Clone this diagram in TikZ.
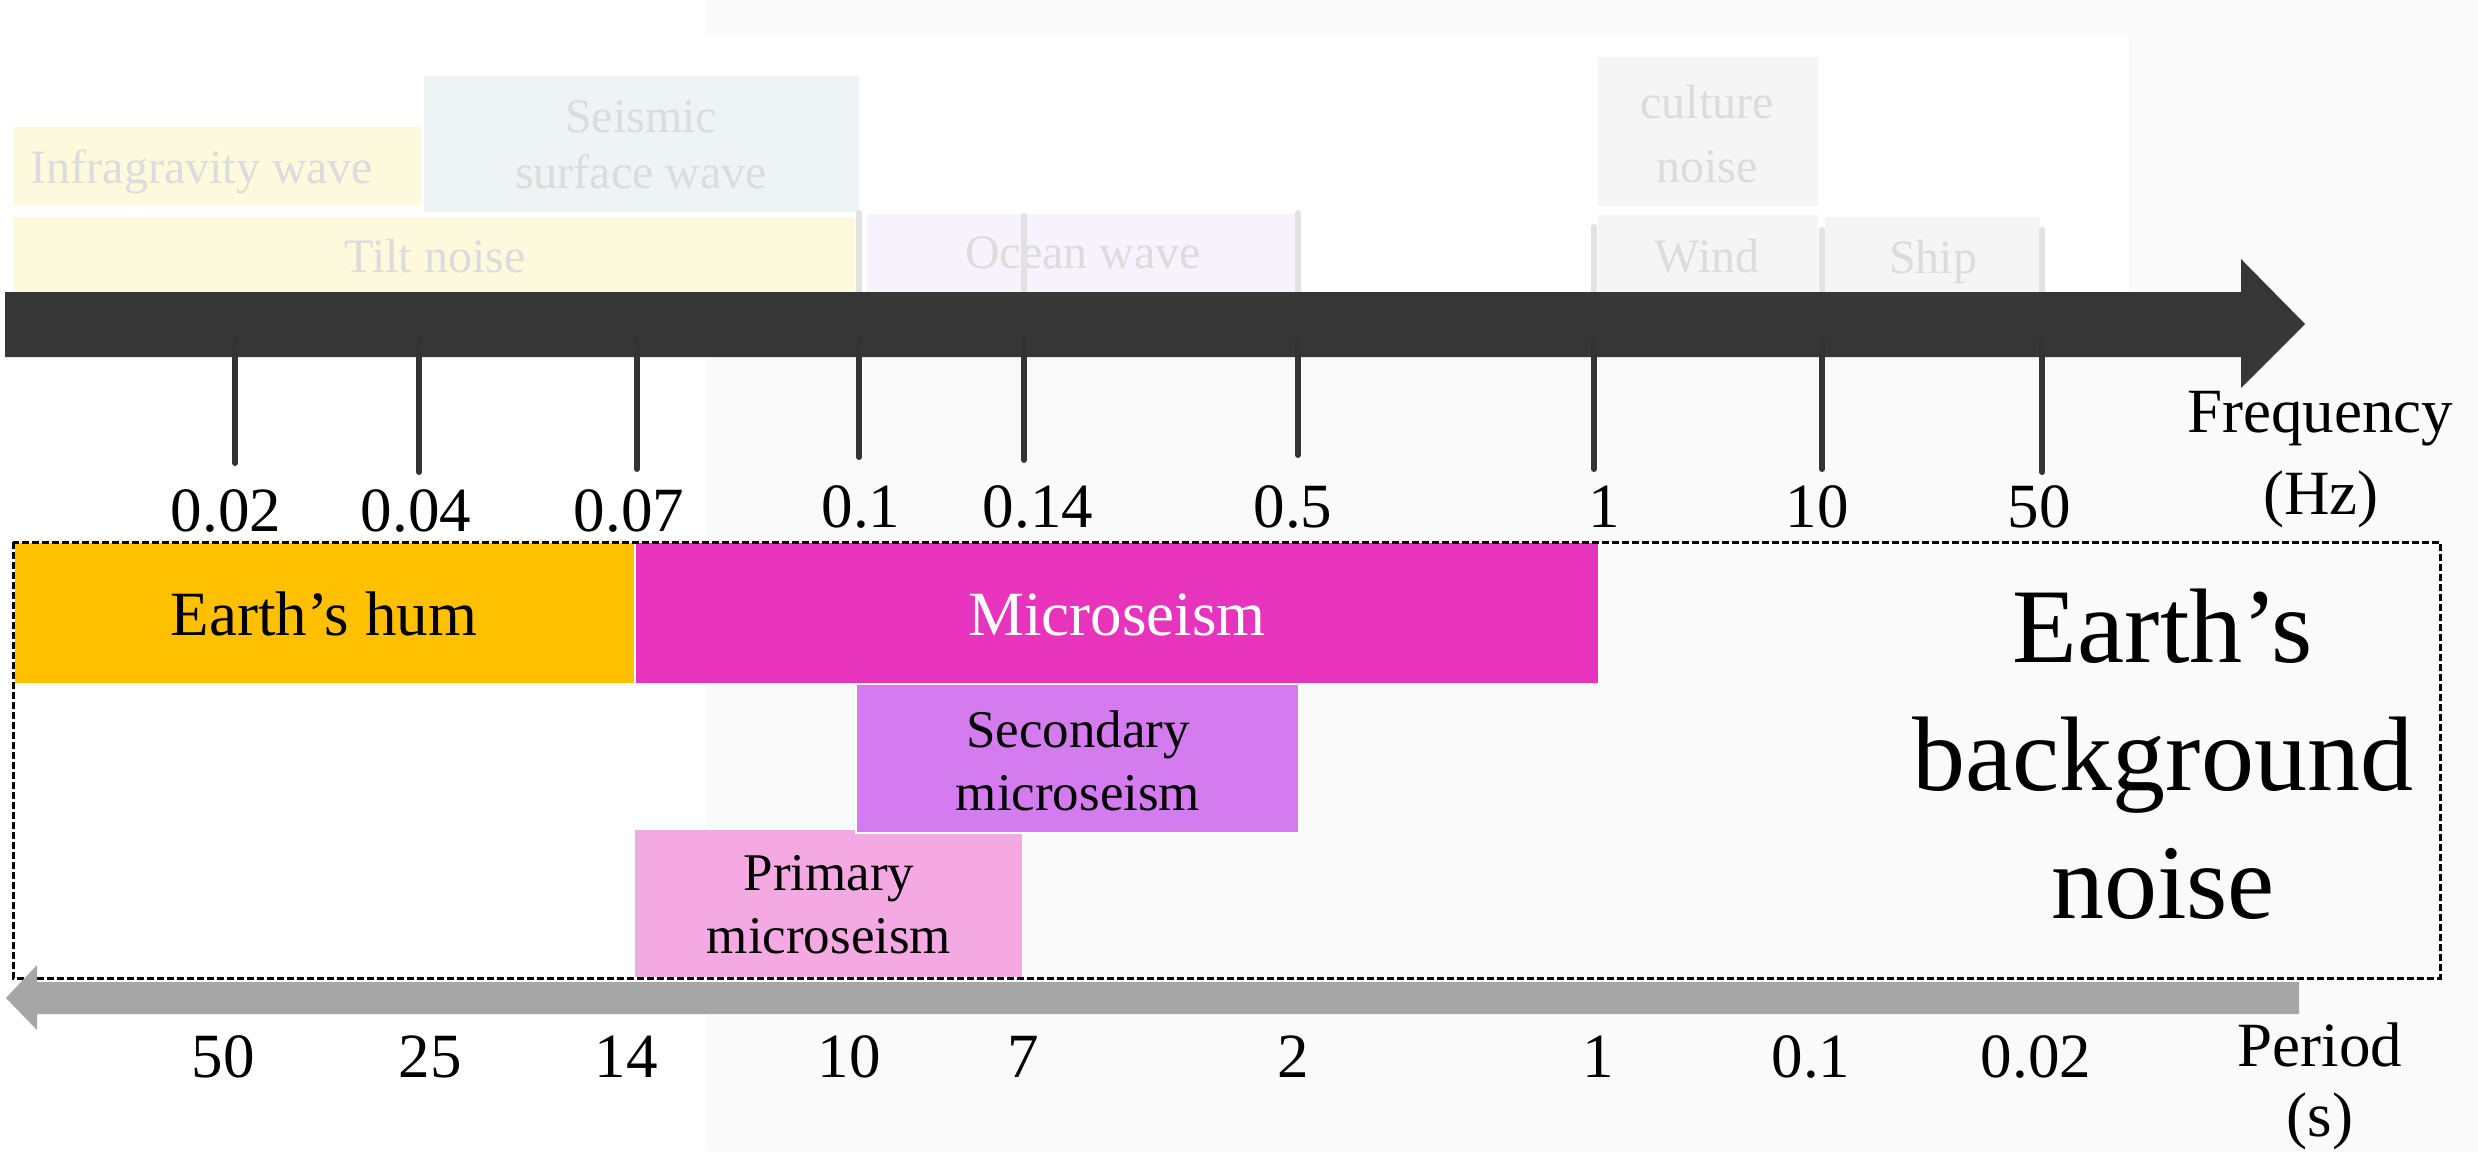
\documentclass[tikz,border=0pt]{standalone}
\usepackage{fontspec}
\setmainfont{Liberation Serif}
\definecolor{bggray}{HTML}{FAFAFA}
\definecolor{fadeyel}{HTML}{FDF9DC}
\definecolor{fadeblue}{HTML}{EEF3F5}
\definecolor{fadelav}{HTML}{F8F2FC}
\definecolor{fadegray}{HTML}{F5F5F5}
\definecolor{fadetxt}{HTML}{DCDCDC}
\definecolor{ghosttick}{HTML}{E2E2E2}
\definecolor{yelline}{HTML}{FFE100}
\definecolor{darkbar}{HTML}{363636}
\definecolor{tickdark}{HTML}{333333}
\definecolor{humcol}{HTML}{FFC000}
\definecolor{microcol}{HTML}{E833BD}
\definecolor{seccol}{HTML}{D57BF0}
\definecolor{primcol}{HTML}{F5A9E3}
\definecolor{perbar}{HTML}{A6A6A6}
\begin{document}
\begin{tikzpicture}[x=0.5pt,y=-0.5pt,
  lbl/.style={anchor=base, inner sep=0pt, font=\fontsize{31.5}{38}\selectfont},
  faded/.style={anchor=base, inner sep=0pt, text=fadetxt, font=\fontsize{24}{29}\selectfont},
  midtxt/.style={anchor=base, inner sep=0pt, font=\fontsize{26.5}{32}\selectfont},
  bigtxt/.style={anchor=base, inner sep=0pt, font=\fontsize{53}{64}\selectfont},
  ticklin/.style={line width=3pt, line cap=round, draw=tickdark},
  ghostlin/.style={line width=3pt, line cap=round, draw=ghosttick},
  cbox/.style={draw=white, line width=1pt},
  dashbox/.style={draw=black, line width=1.5pt, dash pattern=on 3.5pt off 1.5pt}]
\useasboundingbox (0,0) rectangle (2478,1151);
% background
\fill[white] (0,0) rectangle (2478,1151);
\fill[bggray] (707,0) rectangle (2478,1151);
\fill[white] (0,35) rectangle (2129,293);
% faded boxes
\fill[fadeyel] (13,127) rectangle (421,205);
\fill[fadeblue] (424,76) rectangle (859,212);
\fill[fadeyel] (13,217) rectangle (855,294);
\draw[yelline, line width=1.5pt] (13,293) -- (855,293);
\fill[fadelav] (867,214) rectangle (1298,292);
\fill[fadegray] (1598,57) rectangle (1818,206);
\fill[fadegray] (1598,215) rectangle (1818,292);
\fill[fadegray] (1825,217) rectangle (2040,296);
\draw[ghosttick, line width=1.5pt] (1825,295) -- (2040,295);
% ghost ticks above axis
\draw[ghostlin] (859,213) -- (859,292);
\draw[ghostlin] (1298,213) -- (1298,292);
\draw[ghostlin] (1594,227) -- (1594,292);
\draw[ghostlin] (1822,230) -- (1822,292);
\draw[ghostlin] (2042,230) -- (2042,292);
% faded texts
\node[faded] (infra) at (202,183) {Infragravity wave};
\node[faded] (seis1) at (641,132) {Seismic};
\node[faded] (seis2) at (641,188) {surface wave};
\node[faded] (tilt) at (435,272) {Tilt noise};
\node[faded] (ocean) at (1083,268) {Ocean wave};
\node[faded] (cult1) at (1707,118) {culture};
\node[faded] (cult2) at (1707,182) {noise};
\node[faded] (wind) at (1707,272) {Wind};
\node[faded] (ship) at (1933,273) {Ship};
\draw[ghostlin] (1024,216) -- (1024,292);
% frequency axis arrow
\fill[darkbar] (5,292) -- (2241,292) -- (2241,259) -- (2305,324) -- (2241,388) -- (2241,357) -- (5,357) -- cycle;
% ticks below axis
\draw[ticklin] (235,340) -- (235,463);
\draw[ticklin] (419,340) -- (419,472);
\draw[ticklin] (637,340) -- (637,469);
\draw[ticklin] (859,340) -- (859,457);
\draw[ticklin] (1024,340) -- (1024,460);
\draw[ticklin] (1298,340) -- (1298,455);
\draw[ticklin] (1594,340) -- (1594,469);
\draw[ticklin] (1822,340) -- (1822,469);
\draw[ticklin] (2042,340) -- (2042,472);
% frequency labels
\node[lbl] (f1) at (226,531) {0.02};
\node[lbl] (f2) at (416,531) {0.04};
\node[lbl] (f3) at (629,531) {0.07};
\node[lbl] (f4) at (861,527) {0.1};
\node[lbl] (f5) at (1038,527) {0.14};
\node[lbl] (f6) at (1293,527) {0.5};
\node[lbl] (f7) at (1604,527) {1};
\node[lbl] (f8) at (1817,527) {10};
\node[lbl] (f9) at (2039,527) {50};
\node[lbl] (freq1) at (2320,432) {Frequency};
\node[lbl] (freq2) at (2321,514) {(Hz)};
% coloured boxes
\fill[humcol, cbox] (14,542) rectangle (635,684);
\fill[microcol, cbox] (635,542) rectangle (1599,684);
\fill[primcol, cbox] (634,829) rectangle (1023,978);
\fill[seccol, cbox] (856,684) rectangle (1299,833);
\node[lbl] (hum) at (324,635) {Earth’s hum};
\node[lbl, text=white] (micro) at (1117,635) {Microseism};
\node[midtxt] (sec1) at (1078,747) {Secondary};
\node[midtxt] (sec2) at (1078,810) {microseism};
\node[midtxt] (prim1) at (829,890) {Primary};
\node[midtxt] (prim2) at (829,953) {microseism};
\node[bigtxt] (ebn1) at (2163,662) {Earth’s};
\node[bigtxt] (ebn2) at (2163,790) {background};
\node[bigtxt] (ebn3) at (2163,918) {noise};
% dashed frame
\draw[dashbox] (13,542) rectangle (2440,978);
% period axis arrow
\fill[perbar] (2299,982) -- (37,982) -- (37,965) -- (6,998) -- (37,1030) -- (37,1014) -- (2299,1014) -- cycle;
% period labels
\node[lbl] (p1) at (223,1077) {50};
\node[lbl] (p2) at (430,1077) {25};
\node[lbl] (p3) at (626,1077) {14};
\node[lbl] (p4) at (849,1077) {10};
\node[lbl] (p5) at (1023,1077) {7};
\node[lbl] (p6) at (1293,1077) {2};
\node[lbl] (p7) at (1598,1077) {1};
\node[lbl] (p8) at (1811,1077) {0.1};
\node[lbl] (p9) at (2036,1077) {0.02};
\node[lbl] (per1) at (2320,1066) {Period};
\node[lbl] (per2) at (2320,1136) {(s)};
\end{tikzpicture}
\end{document}
